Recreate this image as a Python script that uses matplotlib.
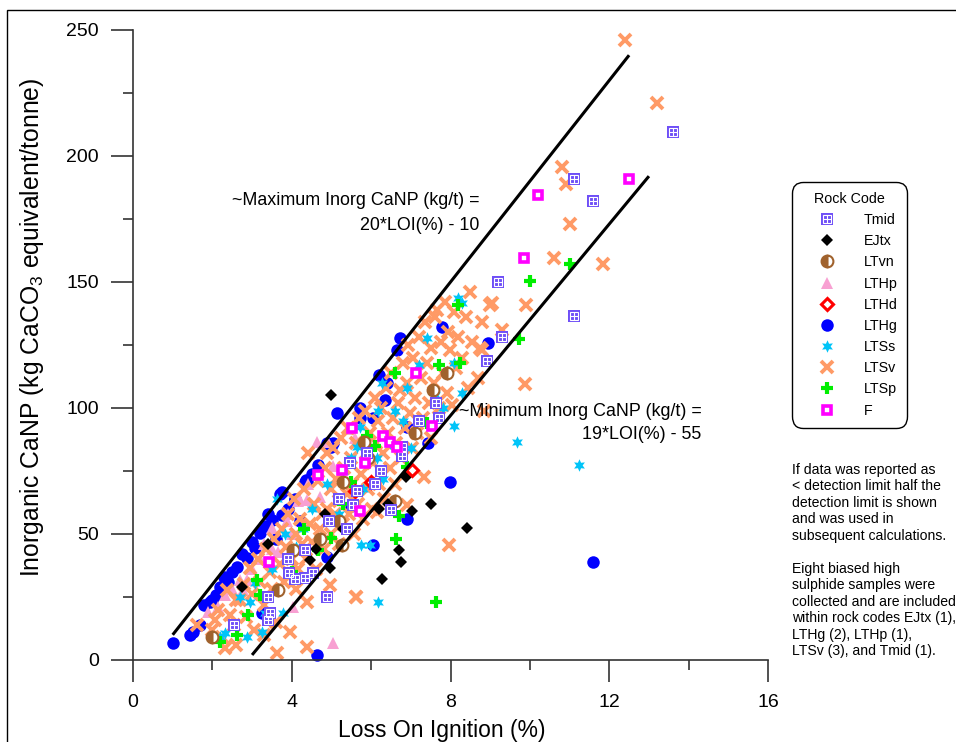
import matplotlib
import matplotlib.pyplot as plt
from matplotlib.legend_handler import HandlerTuple
from matplotlib.patches import Rectangle
from matplotlib.ticker import MultipleLocator

# Rendu sans interface graphique
matplotlib.use('Agg')

plt.rcParams['font.family'] = ['Liberation Sans', 'DejaVu Sans']
plt.rcParams['mathtext.fontset'] = 'custom'
plt.rcParams['mathtext.rm'] = 'Liberation Sans'
plt.rcParams['mathtext.default'] = 'regular'

# (LOI %, CaNP kg/t) par code de roche
tmid = [(13.6, 209.5), (11.1, 191), (11.6, 182), (11.1, 136.5), (9.2, 150), (9.3, 128),
        (8.92, 118.6), (7.63, 102), (7.7, 96), (5.9, 82), (6.78, 84.5), (6.78, 81),
        (5.47, 78), (6.25, 75), (5.64, 67), (5.19, 64), (5.55, 61.5), (6.5, 59.5),
        (4.94, 55), (5.39, 52), (4.33, 43.6), (4.54, 34.5), (4.33, 32.5), (4.9, 25),
        (3.93, 34.5), (4.08, 32), (3.4, 25), (3.45, 18.6), (3.4, 16), (2.54, 14),
        (6.1, 70), (7.2, 95), (3.9, 40)]
ejtx = [(5.0, 105), (6.88, 72.6), (6.43, 62), (7.02, 59), (7.5, 62), (8.41, 52.4),
        (6.7, 43.6), (6.75, 39), (6.27, 32), (4.96, 36.5), (4.46, 39.7), (4.84, 58),
        (2.75, 29), (4.6, 44), (5.3, 52), (6.2, 60), (3.4, 46)]
ltvn = [(7.9, 114), (7.55, 107), (5.82, 86.5), (5.92, 80), (5.29, 70.6), (5.19, 55),
        (5.27, 45.6), (4.03, 43.6), (3.65, 27.8), (1.99, 9.1), (6.6, 63), (4.7, 48),
        (7.1, 90)]
lthp = [(4.63, 86.5), (4.92, 86.5), (5.04, 77), (5.47, 91.6), (4.2, 63.5), (4.38, 63.5),
        (4.71, 64.7), (4.16, 63), (3.88, 55), (3.5, 52.4), (3.65, 43), (3.5, 44),
        (2.7, 31.7), (2.87, 31.7), (2.77, 27.8), (2.32, 25.8), (2.14, 21), (4.03, 21),
        (5.04, 6.7), (3.2, 40), (3.0, 36), (3.9, 58), (4.4, 70), (2.5, 28), (3.3, 46),
        (4.0, 50), (1.9, 19), (5.6, 88)]
lthd = [(7.02, 75.4), (6.0, 70.6), (5.6, 67)]
lthg = [(1.0, 6.8), (1.44, 10), (1.5, 11), (1.7, 14), (1.94, 23), (2.1, 25.8), (2.2, 29),
        (2.4, 31), (2.62, 37), (2.87, 40.5), (3.07, 44.4), (3.2, 50.4), (3.5, 55.5),
        (3.75, 57.5), (4.08, 63.5), (4.38, 70.6), (3.75, 66.7), (3.25, 18.6), (4.64, 2),
        (5.14, 98), (5.04, 86), (4.66, 77.4), (4.33, 70.6), (3.7, 66), (4.08, 64),
        (5.72, 96), (4.89, 86), (7.78, 132), (6.73, 127.8), (6.65, 123), (8.94, 125.8),
        (6.35, 103), (5.72, 100), (6.05, 96), (6.9, 92.5), (7.43, 86), (7.99, 70.6),
        (5.0, 84.5), (4.36, 71.4), (11.6, 38.9), (6.05, 45.6), (4.89, 41), (2.3, 33),
        (2.75, 42), (3.0, 47), (3.3, 53), (2.5, 35), (1.8, 22), (2.0, 24), (3.9, 60),
        (4.5, 74), (3.4, 58), (6.2, 113), (6.4, 110), (4.2, 55), (3.6, 48), (5.5, 61),
        (6.9, 56)]
ltss = [(8.2, 143.6), (8.3, 141.6), (7.4, 127.8), (8.1, 118), (6.27, 110), (8.1, 93),
        (6.17, 99), (6.6, 99), (5.72, 92.5), (5.64, 84.5), (6.48, 86), (6.15, 80),
        (9.67, 86.5), (11.24, 77.4), (5.74, 45.6), (5.97, 45.6), (6.17, 23), (3.63, 64),
        (3.07, 30.5), (3.25, 11), (2.87, 9), (2.32, 10.7), (3.83, 50), (4.28, 52),
        (2.95, 23), (3.33, 18.6), (3.78, 18.6), (2.2, 9), (7.2, 117), (6.9, 108),
        (7.6, 105), (5.3, 75), (4.9, 70), (4.5, 60), (5.8, 68), (6.3, 72), (7.0, 84),
        (4.1, 45), (3.5, 36), (2.7, 25), (5.2, 58), (7.8, 100), (5.5, 80), (8.3, 106),
        (6.8, 95)]
ltsv = [(1.61, 13.9), (2.07, 16), (2.32, 4.8), (2.0, 12), (2.15, 20), (2.25, 9),
        (2.37, 27.8), (2.45, 18), (2.55, 14), (2.6, 24), (2.7, 23.8), (2.8, 30),
        (2.85, 17), (2.95, 36.5), (3.0, 26), (3.05, 12), (3.15, 40), (3.2, 31),
        (3.3, 22), (3.35, 44), (3.45, 35), (3.5, 28), (3.55, 48), (3.6, 15),
        (3.63, 2.8), (3.7, 38), (3.75, 52), (3.8, 31), (3.85, 45), (3.9, 58),
        (3.96, 11), (4.0, 40), (4.05, 64), (4.1, 50), (4.15, 36), (4.2, 56),
        (4.25, 46), (4.3, 68), (4.35, 40), (4.38, 23), (4.38, 5.2), (4.41, 82),
        (4.45, 54), (4.5, 47), (4.55, 62), (4.6, 36), (4.65, 71), (4.7, 52),
        (4.75, 58), (4.8, 44), (4.85, 76), (4.89, 82), (4.9, 60), (4.96, 29.8),
        (5.0, 50), (5.0, 68), (5.05, 84), (5.1, 58), (5.12, 72), (5.18, 46),
        (5.2, 63), (5.25, 88), (5.3, 54), (5.32, 76), (5.38, 66), (5.42, 92),
        (5.45, 58), (5.5, 80), (5.52, 70), (5.58, 50), (5.62, 25), (5.62, 86),
        (5.68, 62), (5.7, 96), (5.75, 74), (5.8, 56), (5.85, 99), (5.88, 82),
        (5.92, 68), (5.98, 90), (6.02, 60), (6.05, 78), (6.1, 104), (6.12, 86),
        (6.17, 95), (6.2, 70), (6.25, 100), (6.3, 82), (6.33, 64), (6.38, 108),
        (6.42, 90), (6.48, 76), (6.5, 114), (6.55, 96), (6.6, 70), (6.63, 86),
        (6.68, 102), (6.73, 107), (6.75, 80), (6.8, 118), (6.85, 92), (6.9, 61.5),
        (6.9, 110), (6.93, 125), (6.98, 98), (7.02, 84), (7.05, 120), (7.1, 104),
        (7.15, 90), (7.2, 128), (7.25, 112), (7.3, 96), (7.35, 134), (7.4, 118),
        (7.45, 102), (7.5, 88), (7.52, 124), (7.58, 110), (7.62, 136), (7.66, 139),
        (7.7, 100), (7.75, 126), (7.8, 114), (7.85, 142), (7.9, 106), (7.94, 130),
        (7.96, 45.6), (7.99, 123), (8.04, 101), (8.1, 138), (8.15, 116), (8.2, 128),
        (8.3, 120), (8.4, 136), (8.45, 108), (8.5, 146), (8.55, 126), (8.7, 112),
        (8.74, 124), (8.8, 134), (8.8, 123), (9.0, 141), (9.05, 141.6), (9.3, 131),
        (9.88, 109.5), (9.9, 141), (10.6, 159.5), (10.8, 195.6), (10.9, 189),
        (11.0, 173), (11.84, 157), (12.4, 246), (13.2, 221), (8.84, 99), (7.33, 72.6),
        (3.3, 10), (2.6, 6), (4.1, 28), (6.15, 58.7), (5.62, 25)]
ltsp = [(10.0, 150.4), (11.0, 157), (9.72, 127.4), (6.6, 114), (7.7, 117), (8.24, 118),
        (8.2, 141), (5.5, 70.6), (6.9, 76.6), (6.7, 57), (6.63, 48), (7.63, 23),
        (5.0, 48.4), (4.66, 43.6), (3.2, 25.8), (2.62, 10), (2.2, 7.1), (3.12, 31.7),
        (5.9, 89), (6.1, 85), (4.3, 52), (5.3, 62), (7.4, 94), (4.0, 35), (2.9, 18)]
f_code = [(10.2, 184.5), (12.5, 191), (9.85, 159.5), (7.13, 114), (7.53, 93), (5.51, 92),
          (6.3, 89), (6.47, 86.5), (6.65, 84.5), (5.85, 78), (5.26, 75.4), (4.66, 73.4),
          (3.43, 39), (5.72, 59)]

# Droites enveloppes (extrémités en LOI % / CaNP)
max_loi = [1, 12.5]
max_canp = [10, 240]
min_loi = [3, 13]
min_canp = [2, 192]


def tracer(ax, pts, **style):
    xs = [p[0] for p in pts]
    ys = [p[1] for p in pts]
    return ax.plot(xs, ys, linestyle='none', clip_on=False, **style)[0]


fig = plt.figure(figsize=(9.56, 7.42), dpi=100)
ax = fig.add_axes([133 / 956, 1 - 660 / 742, (768 - 133) / 956, (660 - 30) / 742])

purple = '#6f4ff7'
h_lthg = tracer(ax, lthg, marker='o', ms=9, mfc='#0000ff', mec='#0000ff', mew=0)
h_lthp = tracer(ax, lthp, marker='^', ms=9, mfc='#f8a0d2', mec='#f8a0d2', mew=0)
h_ltsv = tracer(ax, ltsv, marker='x', ms=8, mec='#ff9a66', mew=2.8)
h_ltss = tracer(ax, ltss, marker=(6, 1, 0), ms=9, mfc='#00c4f8', mec='#00c4f8', mew=0)
h_ltsp = tracer(ax, ltsp, marker='+', ms=9, mec='#00ee00', mew=3)
h_ltvn = tracer(ax, ltvn, marker='o', ms=8.5, fillstyle='left', mfc='#a0622d',
                mfcalt='white', mec='#a0622d', mew=1.5)
h_ejtx = tracer(ax, ejtx, marker='D', ms=6.5, mfc='black', mec='black', mew=0)
h_lthd = tracer(ax, lthd, marker='D', ms=6, mfc='white', mec='#ff0000', mew=2.2)
h_tm1 = tracer(ax, tmid, marker='s', ms=8.5, mfc=purple, mec=purple, mew=0)
h_tm2 = tracer(ax, tmid, marker='s', ms=5.8, mfc='none', mec='white', mew=0.8)
h_tm3 = tracer(ax, tmid, marker='+', ms=5.8, mec='white', mew=0.8)
h_f = tracer(ax, f_code, marker='s', ms=6.2, mfc='white', mec='#ff00ff', mew=2.6)

# Droites min / max
ax.plot(max_loi, max_canp, color='black', lw=2.2, zorder=5, solid_capstyle='butt')
ax.plot(min_loi, min_canp, color='black', lw=2.2, zorder=5, solid_capstyle='butt')

ax.text(8.74, 182.5, '~Maximum Inorg CaNP (kg/t) =', ha='right', va='center', fontsize=12.9)
ax.text(8.74, 172.6, '20*LOI(%) - 10', ha='right', va='center', fontsize=12.9)
ax.text(14.33, 98.8, '~Minimum Inorg CaNP (kg/t) =', ha='right', va='center',
        fontsize=12.9, zorder=6)
ax.text(14.33, 89.3, '19*LOI(%) - 55', ha='right', va='center', fontsize=12.9)

# Axes
ax.set_xlim(0, 16)
ax.set_ylim(0, 250)
ax.xaxis.set_major_locator(MultipleLocator(4))
ax.xaxis.set_minor_locator(MultipleLocator(2))
ax.yaxis.set_major_locator(MultipleLocator(50))
ax.yaxis.set_minor_locator(MultipleLocator(25))
for s in ('top', 'right'):
    ax.spines[s].set_visible(False)
for s in ('left', 'bottom'):
    ax.spines[s].set_linewidth(1.2)
    ax.spines[s].set_color('#333333')
ax.tick_params(which='major', direction='out', length=15.5, width=1.1, pad=9,
               labelsize=14, color='#222222')
ax.tick_params(which='minor', direction='out', length=7.5, width=1.1, color='#222222')
ax.set_facecolor('none')

fig.text(442 / 956, 1 - 731 / 742, 'Loss On Ignition (%)', ha='center', va='center',
         fontsize=16.5)
fig.text(32 / 956, 1 - 327 / 742, 'Inorganic CaNP (kg CaCO$_3$ equivalent/tonne)',
         rotation=90, ha='center', va='center', fontsize=17.8)

# Légende
handles = [(h_tm1, h_tm2, h_tm3), h_ejtx, h_ltvn, h_lthp, h_lthd, h_lthg, h_ltss,
           h_ltsv, h_ltsp, h_f]
labels = ['Tmid', 'EJtx', 'LTvn', 'LTHp', 'LTHd', 'LTHg', 'LTSs', 'LTSv', 'LTSp', 'F']
leg = ax.legend(handles, labels, title='Rock Code', loc='upper left',
                bbox_to_anchor=(792 / 956, 1 - 182 / 742), bbox_transform=fig.transFigure,
                handler_map={tuple: HandlerTuple(ndivide=1)}, numpoints=1,
                fontsize=10.3, title_fontsize=10.3, labelspacing=0.5, handlelength=3.5,
                handletextpad=0.8, borderpad=0.7, borderaxespad=0, fancybox=True,
                framealpha=1, edgecolor='black')
leg.get_frame().set_linewidth(1.0)
leg.get_frame().set_boxstyle('round', pad=0, rounding_size=0.8)

notes = ('If data was reported as\n< detection limit half the\ndetection limit is shown\n'
         'and was used in\nsubsequent calculations.\n\nEight biased high\n'
         'sulphide samples were\ncollected and are included\nwithin rock codes EJtx (1),\n'
         'LTHg (2), LTHp (1),\nLTSv (3), and Tmid (1).')
fig.text(792 / 956, 1 - 463 / 742, notes, ha='left', va='top', fontsize=10.1,
         linespacing=1.225)

# Cadre de la figure
fig.patches.append(Rectangle((7 / 956, -0.05), 1.2, 1.05 - 10 / 742, fill=False,
                             edgecolor='black', lw=1.0, transform=fig.transFigure))

plt.savefig('out.png', dpi=100)
